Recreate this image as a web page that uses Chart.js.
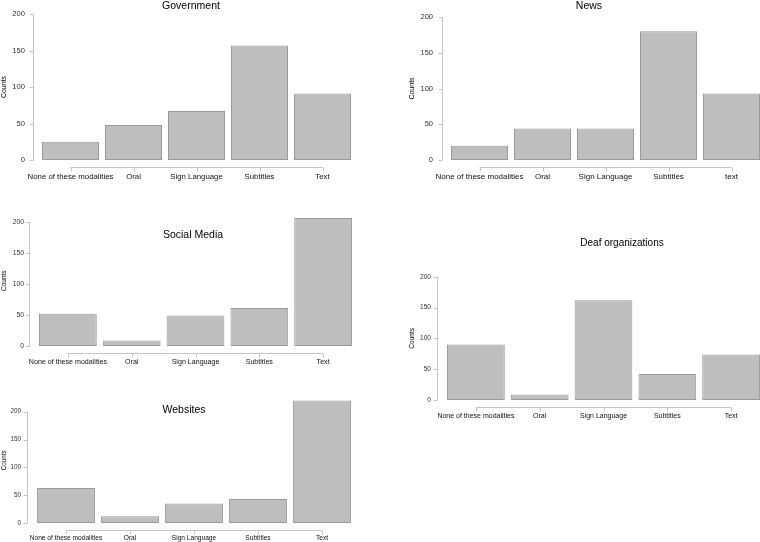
<!DOCTYPE html>
<html>
<head>
<meta charset="utf-8">
<script src="https://cdn.jsdelivr.net/npm/chart.js@4.4.1/dist/chart.umd.min.js"></script>
<style>
    html, body { margin: 0; padding: 0; background: #fff; }
    #page { position: relative; width: 760px; height: 542px; overflow: hidden; font-family: "Liberation Sans", Arial, sans-serif; }
    #page canvas { position: absolute; }
    .title { position: absolute; transform: translate(-50%, -50%); white-space: nowrap; color: #000; line-height: 1; }
</style>
</head>
<body>
<div id="page"></div>
<script>
const MODALITIES = ["None of these modalities", "Oral", "Sign Language", "Subtitles", "Text"];
const NEWS_MODALITIES = ["None of these modalities", "Oral", "Sign Language", "Subtitles", "text"];
const Y_TICKS = [0, 50, 100, 150, 200];

const GOVERNMENT = [25, 48, 67, 157, 91];
const NEWS = [20, 44, 44, 180, 93];
const SOCIAL_MEDIA = [52, 9, 49, 61, 206];
const DEAF_ORGS = [90, 9, 162, 42, 74];
const WEBSITES = [63, 12, 35, 43, 220];

const FONT = "'Liberation Sans', Arial, sans-serif";

// where each panel sits on the page
const PANELS = [
    { title: "Government", labels: MODALITIES, values: GOVERNMENT, yMax: 200,
      canvasLeft: 0, areaL: 39, areaR: 354, y200: 14, bottom: 160, gapY: 6,
      labelFont: 7.8, tickFont: 7.6, countsFont: 7, countsPad: 0, yTickPad: 14, xTickPad: 12,
      titleX: 191, titleY: 5, titleSize: 10.5 },
    { title: "News", labels: NEWS_MODALITIES, values: NEWS, yMax: 200,
      canvasLeft: 380, areaL: 448, areaR: 763, y200: 17, bottom: 160, gapY: 6,
      labelFont: 8, tickFont: 7.5, countsFont: 7, countsPad: 28, yTickPad: 15, xTickPad: 12,
      titleX: 589, titleY: 5, titleSize: 10.5 },
    { title: "Social Media", labels: MODALITIES, values: SOCIAL_MEDIA, yMax: 210,
      canvasLeft: 0, areaL: 36, areaR: 355, y200: 221.7, bottom: 346, gapY: 7,
      labelFont: 7.1, tickFont: 6.8, countsFont: 6.5, countsPad: 0, yTickPad: 12, xTickPad: 12,
      titleX: 193, titleY: 234, titleSize: 10.5 },
    { title: "Deaf organizations", labels: MODALITIES, values: DEAF_ORGS, yMax: 200,
      canvasLeft: 380, areaL: 444, areaR: 763, y200: 276.7, bottom: 400, gapY: 7,
      labelFont: 7, tickFont: 6.6, countsFont: 6.5, countsPad: 28, yTickPad: 13, xTickPad: 12,
      titleX: 622, titleY: 243, titleSize: 10 },
    { title: "Websites", labels: MODALITIES, values: WEBSITES, yMax: 225,
      canvasLeft: 0, areaL: 34, areaR: 354, y200: 411.7, bottom: 523, gapY: 7,
      labelFont: 6.6, tickFont: 6.3, countsFont: 6.3, countsPad: 0, yTickPad: 13, xTickPad: 11,
      titleX: 184, titleY: 409, titleSize: 10.5 }
];

const X_AXIS_H = 24;

// R-style axes: lines only span the tick range, x axis sits a bit under the bars
const rAxes = {
    id: "rAxes",
    afterDraw(chart, args, opts) {
        const { ctx, chartArea } = chart;
        const xs = chart.scales.x, ys = chart.scales.y;
        ctx.save();
        ctx.strokeStyle = "#c6c6c6";
        ctx.lineWidth = 1;
        ctx.beginPath();
        const ax = Math.round(chartArea.left - opts.gapY) + 0.5;
        ctx.moveTo(ax, ys.getPixelForValue(Y_TICKS[0]));
        ctx.lineTo(ax, ys.getPixelForValue(Y_TICKS[Y_TICKS.length - 1]));
        Y_TICKS.forEach(v => {
            const py = Math.round(ys.getPixelForValue(v)) + 0.5;
            ctx.moveTo(ax - 4, py);
            ctx.lineTo(ax, py);
        });
        const ay = Math.round(chartArea.bottom + opts.gapX) + 0.5;
        const n = chart.data.labels.length;
        ctx.moveTo(xs.getPixelForValue(0), ay);
        ctx.lineTo(xs.getPixelForValue(n - 1), ay);
        for (let i = 0; i < n; i++) {
            const px = Math.round(xs.getPixelForValue(i)) + 0.5;
            ctx.moveTo(px, ay);
            ctx.lineTo(px, ay + 4);
        }
        ctx.stroke();
        ctx.restore();
    }
};

function noPadding(s) {
    s.paddingTop = 0;
    s.paddingBottom = 0;
    s.paddingLeft = 0;
    s.paddingRight = 0;
}

const page = document.getElementById("page");

PANELS.forEach(p => {
    const areaTop = p.bottom - (p.bottom - p.y200) * p.yMax / 200;
    const canvasTop = Math.floor(areaTop) - 8;
    const canvas = document.createElement("canvas");
    canvas.width = p.areaR - p.canvasLeft;
    canvas.height = p.bottom - canvasTop + X_AXIS_H;
    canvas.style.left = p.canvasLeft + "px";
    canvas.style.top = canvasTop + "px";
    page.appendChild(canvas);

    const title = document.createElement("div");
    title.className = "title";
    title.textContent = p.title;
    title.style.left = p.titleX + "px";
    title.style.top = p.titleY + "px";
    title.style.fontSize = p.titleSize + "px";
    page.appendChild(title);

    new Chart(canvas, {
        type: "bar",
        data: {
            labels: p.labels,
            datasets: [{
                data: p.values,
                backgroundColor: "#bebebe",
                borderColor: "#9a9a9a",
                borderWidth: 1,
                borderSkipped: false,
                barPercentage: 0.905,
                categoryPercentage: 1
            }]
        },
        options: {
            responsive: false,
            animation: false,
            layout: { autoPadding: false, padding: { top: areaTop - canvasTop, left: 0, right: 0, bottom: 0 } },
            plugins: {
                legend: { display: false },
                tooltip: { enabled: false },
                rAxes: { gapY: p.gapY, gapX: 7 }
            },
            scales: {
                x: {
                    type: "category",
                    offset: true,
                    grid: { display: false, drawTicks: false },
                    border: { display: false },
                    ticks: {
                        padding: p.xTickPad, color: "#111", autoSkip: false, maxRotation: 0, minRotation: 0,
                        font: { family: FONT, size: p.labelFont }
                    },
                    afterFit: s => { s.height = X_AXIS_H; noPadding(s); }
                },
                y: {
                    min: 0,
                    max: p.yMax,
                    grid: { display: false, drawTicks: false },
                    border: { display: false },
                    afterBuildTicks: s => { s.ticks = Y_TICKS.map(v => ({ value: v })); },
                    afterFit: s => { s.width = p.areaL - p.canvasLeft; noPadding(s); },
                    ticks: { padding: p.yTickPad, color: "#333", font: { family: FONT, size: p.tickFont } },
                    title: {
                        display: true, text: "Counts", color: "#000",
                        font: { family: FONT, size: p.countsFont },
                        padding: { top: p.countsPad, bottom: 0 }
                    }
                }
            }
        },
        plugins: [rAxes]
    });
});
</script>
</body>
</html>
